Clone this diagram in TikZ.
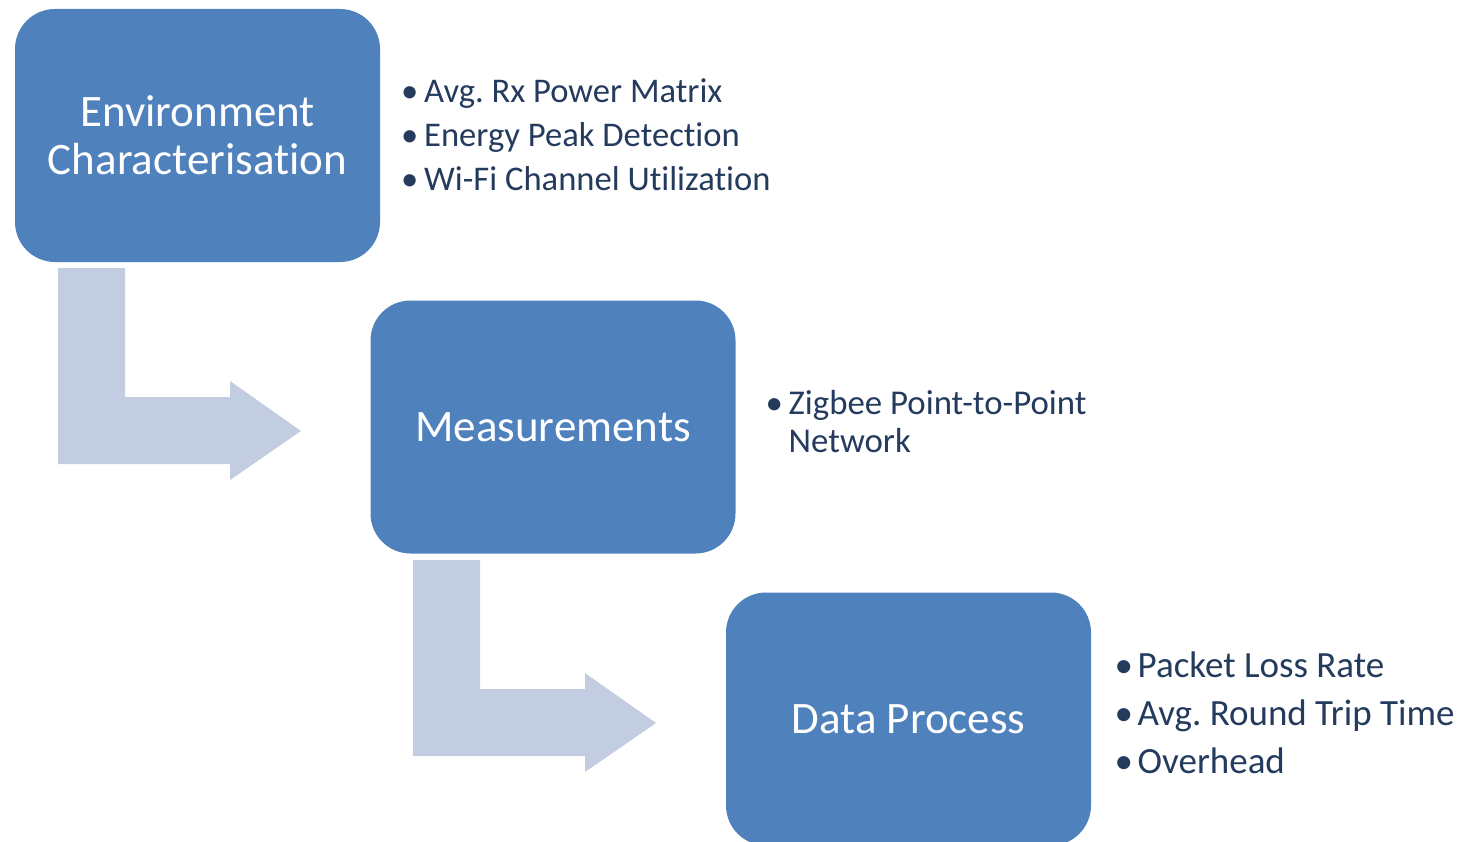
\documentclass[tikz,border=0pt]{standalone}
\usepackage{fontspec}
\setmainfont{Carlito}[Ligatures=NoCommon]
\frenchspacing
\definecolor{boxblue}{HTML}{4F81BD}
\definecolor{arrowgrey}{HTML}{C3CDE1}
\definecolor{listink}{HTML}{243B5E}
\begin{document}
\begin{tikzpicture}[x=1pt,y=-1pt,
  stagebox/.style={fill=boxblue, rounded corners=40pt, minimum width=365pt,
    minimum height=253pt, inner sep=0pt, text=white, align=center,
    font=\fontsize{45}{48}\selectfont},
  itemlist/.style={anchor=base west, inner sep=0pt, text=listink, align=left},
  bentarrow/.style={fill=arrowgrey}
]
\useasboundingbox (0,0) rectangle (1463,842);
\clip (0,0) rectangle (1463,842);

% process stages
\node[stagebox] (env)  at (197.5,135.5) {Environment\\Characterisation};
\node[stagebox] (meas) at (553,427)     {Measurements};
\node[stagebox] (proc) at (908.5,719)   {Data Process};

% bent arrows leading from one stage down to the next
\foreach \dx/\dy in {0/0, 355/292}{
  \fill[bentarrow, shift={(\dx,\dy)}]
    (58,268) -- (125,268) -- (125,397) -- (230,397) -- (230,381)
    -- (301,431) -- (230,480) -- (230,464) -- (58,464) -- cycle;
}

% item lists beside each stage: #1 size, #2 line distance, #3 rows
\newcommand{\itemrows}[3]{\fontsize{#1}{#2}\selectfont
  \begin{tabular}[t]{@{}l@{}l@{}}#3\end{tabular}}
\newcommand{\bul}{\makebox[23pt][l]{\textbullet}}
\node[itemlist] (envlist) at (401,102.5) {\itemrows{34.6}{44}{%
  \bul & Avg. Rx Power Matrix\\
  \bul & Energy Peak Detection\\
  \bul & Wi-Fi Channel Utilization}};
\node[itemlist] (measlist) at (765.5,414) {\itemrows{34.8}{38}{%
  \bul & Zigbee Point-to-Point\\
       & Network}};
\node[itemlist] (proclist) at (1114.5,677) {\itemrows{37}{48}{%
  \bul & Packet Loss Rate\\
  \bul & Avg. Round Trip Time\\
  \bul & Overhead}};
\end{tikzpicture}
\end{document}
